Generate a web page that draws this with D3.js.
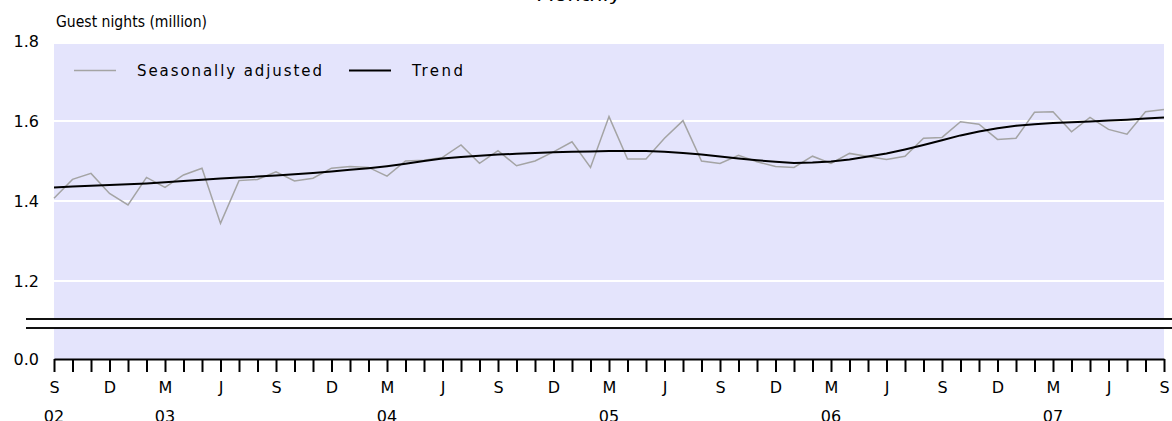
<!DOCTYPE html>
<html><head><meta charset="utf-8">
<script src="https://cdn.jsdelivr.net/npm/d3@7/dist/d3.min.js"></script>
<style>html,body{margin:0;padding:0;background:#fff;overflow:hidden}svg{display:block}text{font-family:"DejaVu Sans",sans-serif;fill:#000}</style>
</head><body><svg id="c" width="1172" height="421"></svg>
<script>
// Monthly, Sep 2002 .. Sep 2007
const seasonallyAdjusted = [1.407,1.454,1.469,1.419,1.390,1.459,1.434,1.465,1.482,1.344,1.451,1.454,1.473,1.450,1.457,1.482,1.486,1.484,1.462,1.500,1.502,
  1.509,1.540,1.494,1.526,1.488,1.500,1.523,1.548,1.484,1.611,1.505,1.505,1.557,1.601,1.500,1.494,1.514,1.498,1.486,1.484,
  1.512,1.494,1.519,1.511,1.504,1.512,1.557,1.559,1.598,1.592,1.554,1.557,1.622,1.623,1.573,1.609,1.579,1.567,1.623,1.629];
const trend = [1.434,1.436,1.438,1.440,1.442,1.444,1.447,1.450,1.453,1.456,1.459,1.461,1.464,1.467,1.470,1.474,1.478,1.482,1.487,1.493,1.500,
  1.506,1.510,1.513,1.516,1.518,1.520,1.522,1.523,1.524,1.525,1.525,1.525,1.523,1.520,1.516,1.511,1.506,1.502,1.498,1.495,
  1.496,1.499,1.504,1.511,1.519,1.529,1.540,1.552,1.564,1.574,1.582,1.588,1.592,1.595,1.597,1.599,1.601,1.603,1.606,1.609];
const monthLetters = ["S","D","M","J"];
const yearLabels = ["02","03","04","05","06","07"];
const yearMonthIndex = [0,6,18,30,42,54];
const yTicks = [0,1.2,1.4,1.6,1.8];
const gridTicks = [1.2,1.4,1.6];
const seriesNames = ["Seasonally adjusted","Trend"];
const titleText = "Monthly";
const yTitle = "Guest nights (million)";

const svg = d3.select("#c");
const x = d3.scaleLinear().domain([0, seasonallyAdjusted.length-1]).range([54, 1164]);
const y = d3.scaleLinear().domain([0, 1.075, 1.8]).range([359, 331, 41]);

// background
svg.append("rect").attr("x",54).attr("y",44).attr("width",1110).attr("height",315).attr("fill","#e4e4fc");
// gridlines
svg.append("g").selectAll("line").data(gridTicks).join("line")
  .attr("x1",54).attr("x2",1164).attr("y1",d=>y(d)).attr("y2",d=>y(d))
  .attr("stroke","#fff").attr("stroke-width",2);
// axis break
svg.append("rect").attr("x",26).attr("y",319).attr("width",1146).attr("height",9).attr("fill","#fff");
[319,328].forEach(v=>svg.append("line").attr("x1",26).attr("x2",1172).attr("y1",v).attr("y2",v).attr("stroke","#111").attr("stroke-width",2));

// y labels
svg.append("g").selectAll("text").data(yTicks).join("text")
  .attr("x",39).attr("y",d=>y(d)+6).attr("text-anchor","end").attr("font-size",16)
  .text(d=>d3.format(".1f")(d));

// x axis
const xAxis = d3.axisBottom(x).tickValues(d3.range(seasonallyAdjusted.length)).tickSize(13).tickSizeOuter(0).tickPadding(10)
  .tickFormat(i => i%3===0 ? monthLetters[(i/3)%4] : "");
const ga = svg.append("g").attr("transform","translate(0,359)").call(xAxis);
ga.selectAll("path,line").attr("stroke","#000").attr("stroke-width",2);
ga.selectAll("text").attr("font-size",16).attr("font-family","DejaVu Sans, sans-serif").attr("fill","#000");
// years
svg.append("g").selectAll("text").data(yearLabels).join("text")
  .attr("x",(d,k)=>x(yearMonthIndex[k])).attr("y",422).attr("text-anchor","middle").attr("font-size",16).text(d=>d);

// lines
const line = d3.line().x((d,i)=>x(i)).y(d=>y(d));
svg.append("path").datum(seasonallyAdjusted).attr("d",line).attr("fill","none").attr("stroke","#a4a4a4").attr("stroke-width",1.5);
svg.append("path").datum(trend).attr("d",line).attr("fill","none").attr("stroke","#000").attr("stroke-width",2);

// titles
svg.append("text").attr("x",536).attr("y",1).attr("font-size",15).attr("textLength",85).attr("lengthAdjust","spacingAndGlyphs").text(titleText);
svg.append("text").attr("x",56).attr("y",27).attr("font-size",15).attr("textLength",151).attr("lengthAdjust","spacingAndGlyphs").text(yTitle);

// legend
const lg = svg.append("g");
lg.append("line").attr("x1",74).attr("x2",116).attr("y1",70.5).attr("y2",70.5).attr("stroke","#a4a4a4").attr("stroke-width",1.5);
lg.append("text").attr("x",137).attr("y",76).attr("font-size",15).attr("textLength",185).attr("lengthAdjust","spacing").text(seriesNames[0]);
lg.append("line").attr("x1",349).attr("x2",391).attr("y1",70.5).attr("y2",70.5).attr("stroke","#000").attr("stroke-width",2);
lg.append("text").attr("x",412).attr("y",76).attr("font-size",15).attr("textLength",51).attr("lengthAdjust","spacing").text(seriesNames[1]);
</script></body></html>
